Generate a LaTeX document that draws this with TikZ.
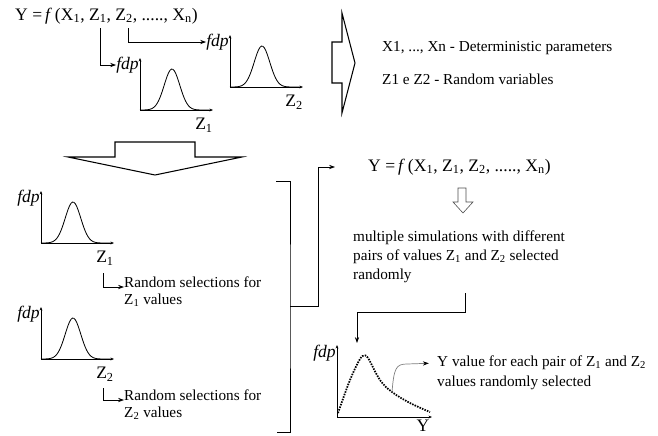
\documentclass[tikz,border=0pt]{standalone}
\usepackage{fontspec}
\setmainfont{Liberation Serif}
\usetikzlibrary{arrows.meta, positioning}

\tikzset{
  txt/.style={inner sep=0pt, anchor=west, font=\fontsize{13}{16}\selectfont, align=left},
  formula/.style={inner sep=0pt, anchor=west, font=\fontsize{15}{18}\selectfont},
  fdplbl/.style={inner sep=0pt, anchor=east, font=\fontsize{15}{18}\selectfont\itshape},
  varlbl/.style={inner sep=0pt, font=\fontsize{15}{18}\selectfont},
  axis/.style={line width=0.6pt, -{Stealth[length=3pt,width=2.4pt]}},
  link/.style={line width=0.6pt, -{Stealth[length=5pt,width=3.6pt]}},
  bigarrow/.style={draw, line width=0.9pt, line join=miter},
}
\newcommand{\fmla}{Y =\,\textit{f}\,(X\textsubscript{1}, Z\textsubscript{1}, Z\textsubscript{2}, ....., X\textsubscript{n})}

% gaussian density sketch: #1 name, #2 origin, #3 variable
\newcommand{\gaussplot}[3]{%
  \begin{scope}[shift={#2}]
    \coordinate (#1) at (0,0);
    \draw[axis] (0,0) -- (0,-52);
    \draw[axis] (0,0) -- (73,0);
    \draw[line width=0.7pt] plot[domain=0:70, samples=50, smooth] (\x, {-41*exp(-((\x-32)/11)^2)});
    \node[fdplbl] (#1-fdp) at (-1,-45) {fdp};
    \node[varlbl] (#1-var) at (64,15) {#3};
  \end{scope}}

\begin{document}
\begin{tikzpicture}[x=0.03cm, y=-0.03cm]
\useasboundingbox (0,0) rectangle (658,435);

% model and the two input densities
\node[formula] (model) at (15,16) {\fmla};
\coordinate (z1-src) at (100,28);
\coordinate (z2-src) at (128,28);
\gaussplot{topA}{(140,110)}{Z\textsubscript{1}}
\gaussplot{topB}{(230,87)}{Z\textsubscript{2}}
\draw[link] (z1-src) |- (topA-fdp.west);
\draw[link] (z2-src) |- (topB-fdp.west);

% legend
\draw[bigarrow] (332,42) -- (342,42) -- (342,13) -- (355,63) -- (342,113) -- (342,83) -- (332,83) -- cycle;
\node[txt] (det) at (382,48) {X1, ..., Xn - Deterministic parameters};
\node[txt] (rnd) at (382,79) {Z1 e Z2 - Random variables};

% down to the sampling step
\draw[bigarrow] (115,142) -- (195,142) -- (195,157) -- (242,157) -- (155,175) -- (68,157) -- (115,157) -- cycle;

% random selections
\gaussplot{selA}{(41,243)}{Z\textsubscript{1}}
\gaussplot{selB}{(41,359)}{Z\textsubscript{2}}
\coordinate (selA-pick) at (103,273);
\coordinate (selB-pick) at (103,388);
\node[txt, anchor=base west] (selA-txt) at (124,287) {Random selections for};
\node[txt, anchor=base west] (selA-txt2) at ([yshift=-15pt]selA-txt.base west) {Z\textsubscript{1} values};
\node[txt, anchor=base west] (selB-txt) at (124,400) {Random selections for};
\node[txt, anchor=base west] (selB-txt2) at ([yshift=-15pt]selB-txt.base west) {Z\textsubscript{2} values};
\draw[link] (selA-pick) |- (selA-txt.base west);
\draw[link] (selB-pick) |- (selB-txt.base west);

% bracket gathering both selections
\coordinate (brk-top) at (276,181);
\coordinate (brk-bot) at (277,432);
\coordinate (brk-mid) at (290,306);
\coordinate (model2-in) at (335,167);
\draw[line width=0.7pt] (brk-top) -| (brk-mid) |- (brk-bot);
\draw[link] (brk-mid) -- ++(28,0) |- (model2-in);

% simulations
\node[formula] (model2) at (368,167) {\fmla};
\draw[line width=0.5pt, gray!60!black] (458,188) -- (466,188) -- (466,202) -- (473,202) -- (463,213) -- (453,202) -- (458,202) -- cycle;
\node[txt] (sims) at (353,257) {multiple simulations with different\\pairs of values Z\textsubscript{1} and Z\textsubscript{2} selected\\randomly};
\coordinate (sims-out) at (465,293);
\coordinate (peak-in) at (357,343);
\draw[link] (sims-out) -- ++(0,19) -| (peak-in);

% output density of Y
\begin{scope}[shift={(337,417)}]
  \coordinate (out) at (0,0);
  \draw[axis] (0,0) -- (0,-72);
  \draw[axis] (0,0) -- (95,0);
  \draw[line width=1.5pt, dash pattern=on 1.3pt off 1pt] plot[smooth, tension=0.6] coordinates {(1,-4) (13,-37) (23,-58) (27,-61) (31,-59) (43,-37) (55,-25) (73,-14) (93,-5)};
  \node[fdplbl] (out-fdp) at (-1,-64) {fdp};
  \node[varlbl] (out-var) at (86,9) {Y};
\end{scope}
\coordinate (curve-pt) at (392,392);
\node[txt] (yval) at (437,363) {Y value for each pair of Z\textsubscript{1} and Z\textsubscript{2}};
\node[txt, anchor=base west] (yval2) at ([yshift=-17pt]yval.base west) {values randomly selected};
\draw[line width=0.6pt, gray, -{Stealth[black, length=5pt, width=3.6pt]}, shorten >=7pt] (curve-pt) .. controls (394,368) and (396,364) .. (407,364) -- (yval.west);
\end{tikzpicture}
\end{document}
